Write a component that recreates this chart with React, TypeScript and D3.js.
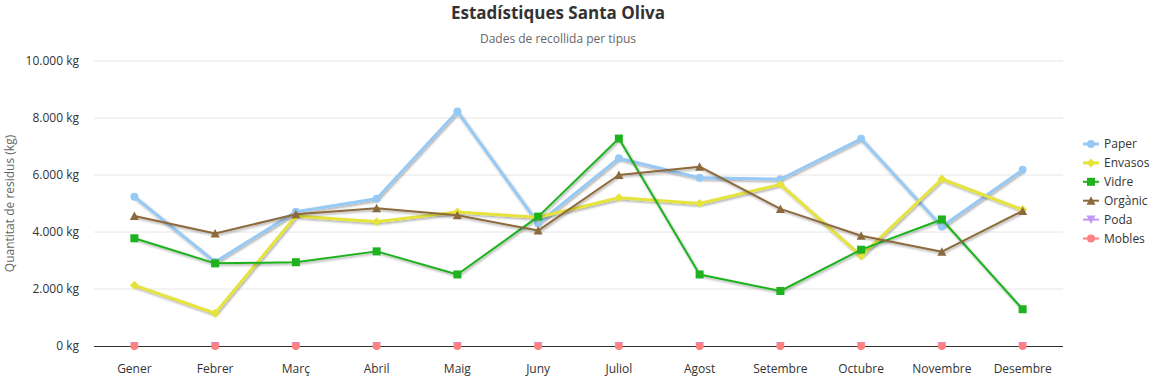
import React from "react";
import * as d3 from "d3";

const months = ["Gener","Febrer","Març","Abril","Maig","Juny","Juliol","Agost","Setembre","Octubre","Novembre","Desembre"];
const paper = [5240, 2950, 4710, 5170, 8230, 4300, 6590, 5900, 5850, 7270, 4190, 6180];
const envasos = [2130, 1150, 4560, 4360, 4700, 4520, 5200, 5000, 5670, 3160, 5860, 4780];
const vidre = [3780, 2900, 2940, 3320, 2510, 4540, 7280, 2510, 1930, 3380, 4440, 1290];
const organic = [4560, 3950, 4620, 4830, 4590, 4050, 6000, 6290, 4810, 3870, 3310, 4740];
const poda = [0,0,0,0,0,0,0,0,0,0,0,0];
const mobles = [0,0,0,0,0,0,0,0,0,0,0,0];
const yTicks = [0, 2000, 4000, 6000, 8000, 10000];

const series = [
  { name: "Paper", data: paper, color: "#97c9f5", symbol: "circle", width: 3 },
  { name: "Envasos", data: envasos, color: "#e6e33c", symbol: "diamond", width: 3 },
  { name: "Vidre", data: vidre, color: "#1fb21f", symbol: "square", width: 2 },
  { name: "Orgànic", data: organic, color: "#8d6a3c", symbol: "triangle", width: 2 },
  { name: "Poda", data: poda, color: "#c497f7", symbol: "triangle-down", width: 2 },
  { name: "Mobles", data: mobles, color: "#ff8080", symbol: "circle", width: 2 },
];

const FONT = "'Open Sans', 'Noto Sans', sans-serif";

function marker(symbol: string, x: number, y: number, color: string, key: string) {
  switch (symbol) {
    case "circle":
      return <circle key={key} cx={x} cy={y} r={4} fill={color} />;
    case "square":
      return <rect key={key} x={x - 4} y={y - 4} width={8} height={8} fill={color} />;
    case "diamond":
      return <path key={key} d={`M${x},${y - 4.5}L${x + 4.5},${y}L${x},${y + 4.5}L${x - 4.5},${y}Z`} fill={color} />;
    case "triangle":
      return <path key={key} d={`M${x},${y - 4.5}L${x + 4.5},${y + 4}L${x - 4.5},${y + 4}Z`} fill={color} />;
    case "triangle-down":
      return <path key={key} d={`M${x},${y + 4.5}L${x + 4.5},${y - 4}L${x - 4.5},${y - 4}Z`} fill={color} />;
  }
  return null;
}

export default function App() {
  const W = 1158, H = 380;
  const left = 94, right = 1063, top = 61, bottom = 346;
  const x = d3.scaleBand<string>().domain(months).range([left, right]);
  const y = d3.scaleLinear().domain([0, 10000]).range([bottom, top]);
  const line = d3.line<number>().x((_, i) => (x(months[i]) as number) + x.bandwidth() / 2).y(d => y(d));
  const fmt = (v: number) => d3.format(",")(v).replace(/,/g, ".") + " kg";

  return (
    <svg width={W} height={H} style={{ position: "absolute", left: 0, top: 0, fontFamily: FONT }}>
      <defs>
        <filter id="sh" x="-10%" y="-10%" width="120%" height="130%">
          <feDropShadow dx="1" dy="1.5" stdDeviation="1.2" floodColor="#000" floodOpacity="0.35" />
        </filter>
      </defs>
      <rect width={W} height={H} fill="#fff" />
      <text x={558} y={19} textAnchor="middle" fontSize={17} fontWeight="bold" fill="#333">Estadístiques Santa Oliva</text>
      <text x={558} y={43} textAnchor="middle" fontSize={12} fill="#666">Dades de recollida per tipus</text>
      {yTicks.map(t => (
        <g key={t}>
          {t > 0 && <line x1={left} x2={right} y1={y(t)} y2={y(t)} stroke="#e6e6e6" strokeWidth={1} />}
          <text x={79} y={y(t) + 4} textAnchor="end" fontSize={12} fill="#333">{fmt(t)}</text>
        </g>
      ))}
      <line x1={left} x2={right} y1={bottom + 0.5} y2={bottom + 0.5} stroke="#333" strokeWidth={1} />
      <text transform={`translate(14,${(top + bottom) / 2}) rotate(-90)`} textAnchor="middle" fontSize={12} fill="#666">Quantitat de residus (kg)</text>
      {months.map(m => (
        <text key={m} x={(x(m) as number) + x.bandwidth() / 2} y={373} textAnchor="middle" fontSize={12} fill="#333">{m}</text>
      ))}
      {series.map(s => (
        <g key={s.name}>
          <path d={line(s.data) || ""} fill="none" stroke={s.color} strokeWidth={s.width} filter="url(#sh)" strokeLinejoin="round" />
          {s.data.map((v, i) => marker(s.symbol, (x(months[i]) as number) + x.bandwidth() / 2, y(v), s.color, s.name + i))}
        </g>
      ))}
      {series.map((s, i) => {
        const ly = 144 + i * 18.9;
        return (
          <g key={"lg" + s.name}>
            <line x1={1083} x2={1099} y1={ly} y2={ly} stroke={s.color} strokeWidth={s.width} />
            {marker(s.symbol, 1091, ly, s.color, "lm" + i)}
            <text x={1104} y={ly + 4} fontSize={12} fill="#333">{s.name}</text>
          </g>
        );
      })}
    </svg>
  );
}
